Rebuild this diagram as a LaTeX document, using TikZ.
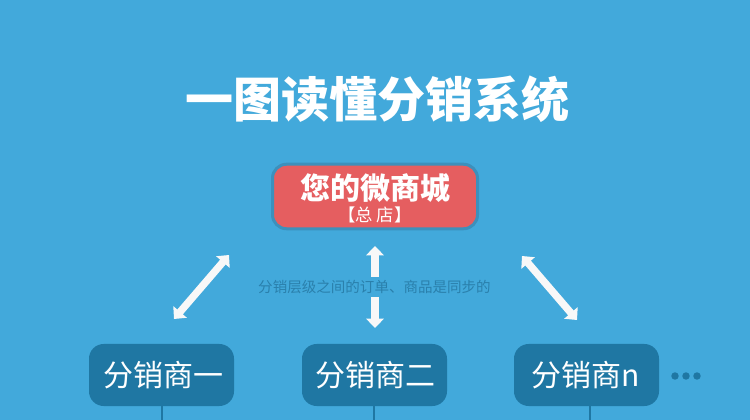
\documentclass[tikz,border=0pt]{standalone}
\usepackage{fontspec}
\setmainfont{Noto Sans CJK SC}
\usepackage{xcolor}
\usetikzlibrary{arrows.meta}
\definecolor{fondo}{HTML}{42A9DB}
\definecolor{rojo}{HTML}{E55E60}
\definecolor{borde}{HTML}{3C90BC}
\definecolor{oscuro}{HTML}{1F77A3}
\definecolor{nota}{HTML}{2A80AC}
\definecolor{flecha}{HTML}{F8F8F8}
\tikzset{
    tienda/.style={draw=borde, line width=2.25pt, fill=rojo, rounded corners=10.5pt, minimum width=153.75pt, minimum height=48.4pt, inner sep=0pt},
    distribuidor/.style={fill=oscuro, rounded corners=11pt, minimum width=108.75pt, minimum height=46.5pt, inner sep=0pt},
    rotulo/.style={text=white, inner sep=0pt, align=center},
    doble/.style={draw=flecha, line width=5.5pt, {Triangle[length=7pt,width=13pt]}-{Triangle[length=7pt,width=13pt]}},
    rama/.style={draw=oscuro, line width=0.8pt},
    punto/.style={circle, fill=oscuro, minimum size=5.6pt, inner sep=0pt}
}
\begin{document}
\begin{tikzpicture}[x=0.75pt,y=-0.75pt]
    % Fondo y limites de la figura
    \fill[fondo] (0,0) rectangle (750,420);
    \useasboundingbox (0,0) rectangle (750,420);
    % Titulo
    \node[rotulo, font=\bfseries\fontsize{36}{40}\selectfont] (titulo) at (377,99.5) {一图读懂分销系统};
    % Tienda principal
    \node[tienda] (tienda) at (375,196.5) {};
    \node[rotulo] (nombretienda) at (375,198) {{\bfseries\fontsize{22.5}{24}\selectfont 您的微商城}\\[2.25pt]{\fontsize{13}{15}\selectfont 【总 店】}};
    % Distribuidores y sus ramas
    \foreach \nombre/\x/\texto/\etiqueta in {uno/161.5/163.5/分销商一,dos/374.5/375.5/分销商二,ene/586.5/585.5/分销商n} {
        \node[distribuidor] (\nombre) at (\x,375) {};
        \node[rotulo, font=\fontsize{22.5}{26}\selectfont] (texto\nombre) at (\texto,375.5) {\etiqueta};
    }
    \foreach \nombre/\x in {uno/162,dos/374,ene/590} {
        \coordinate (fin\nombre) at (\x,420);
        \draw[rama] (\nombre.south -| fin\nombre) -- (fin\nombre);
    }
    % Puntos suspensivos
    \foreach \i/\x in {1/675,2/686,3/697} {
        \node[punto] (punto\i) at (\x,376) {};
    }
    % Flechas dobles
    \coordinate (izqa) at (229,255);
    \coordinate (izqb) at (174,319);
    \coordinate (cena) at (375,246);
    \coordinate (cenb) at (375,328);
    \coordinate (dera) at (522,256);
    \coordinate (derb) at (577,320);
    \draw[doble] (izqa) -- (izqb);
    \draw[doble] (cena) -- (cenb);
    \draw[doble] (dera) -- (derb);
    % Texto sobre la flecha central
    \node[fill=fondo, text=nota, inner sep=0pt, minimum height=15pt, font=\fontsize{10.9}{13}\selectfont] (nota) at (374.5,287.5) {分销层级之间的订单、商品是同步的};
\end{tikzpicture}
\end{document}
